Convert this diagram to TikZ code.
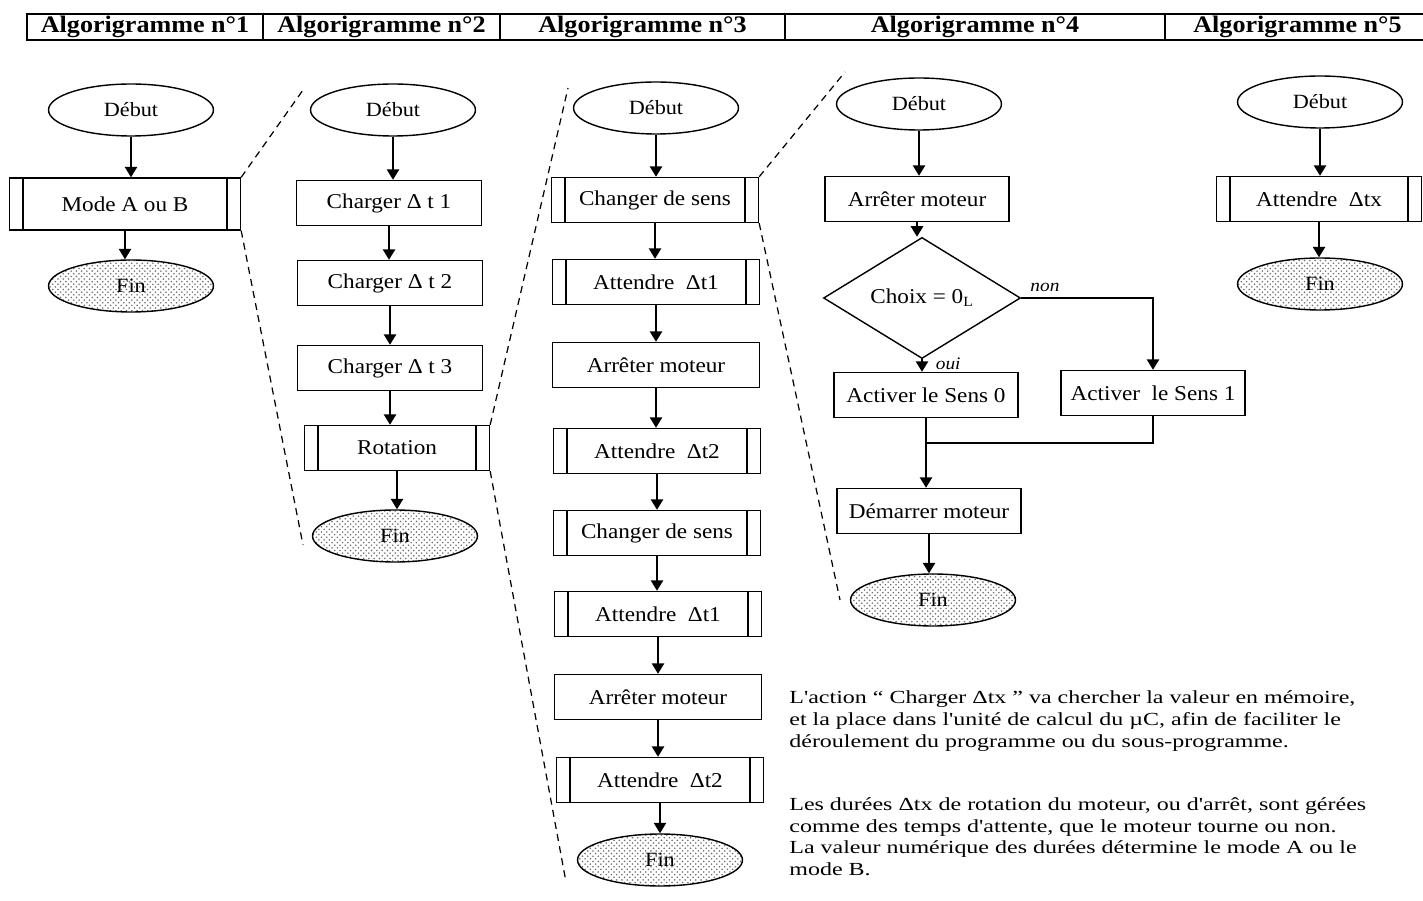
\documentclass[tikz,border=0pt]{standalone}
\usepackage{fontspec}
\setmainfont{Liberation Serif}[FakeStretch=1.1]
\newfontfamily\notefont{Liberation Serif}[FakeStretch=1.3]
\usepackage{tikz}
\usetikzlibrary{arrows.meta}
\usetikzlibrary{shapes.geometric}
\usetikzlibrary{patterns}
\tikzset{>={Triangle[width=7pt,length=6pt]}}
\definecolor{stipple}{HTML}{6E6E6E}
\tikzset{
  box/.style={draw, line width=0.8pt, minimum width=3.7cm, minimum height=0.9cm, inner sep=1pt, font=\fontsize{12}{14}\selectfont},
  subbox/.style={box, path picture={
      \draw[line width=1.1pt] ([xshift=0.27cm]path picture bounding box.north west) -- ([xshift=0.27cm]path picture bounding box.south west);
      \draw[line width=1.1pt] ([xshift=-0.27cm]path picture bounding box.north east) -- ([xshift=-0.27cm]path picture bounding box.south east);}},
  debut/.style={draw, ellipse, line width=0.8pt, minimum width=3.3cm, minimum height=1.04cm, inner sep=0pt, font=\fontsize{11.5}{13}\selectfont},
  fin/.style={debut, pattern=crosshatch dots, pattern color=stipple},
  choix/.style={draw, diamond, line width=0.8pt, minimum width=3.94cm, minimum height=1.6cm, inner sep=0pt, font=\fontsize{12}{14}\selectfont},
  cell/.style={draw, line width=1pt, minimum height=0.52cm, inner sep=0pt, font=\fontsize{13.5}{15}\selectfont\bfseries},
  flow/.style={->, line width=1.1pt},
  zoomline/.style={dash pattern=on 4pt off 3pt, line width=0.7pt},
  note/.style={align=left, inner sep=0pt, font=\notefont\fontsize{10.5}{12.5}\selectfont}
}

\begin{document}
\begin{tikzpicture}[x=0.02cm, y=-0.02cm]
                \useasboundingbox (0,0) rectangle (1423,901);
                % en-tete
                \node[cell, minimum width=4.72cm] (h1) at (145,27) {Algorigramme n°1};
                \node[cell, minimum width=4.74cm] (h2) at (381.5,27) {Algorigramme n°2};
                \node[cell, minimum width=5.7cm] (h3) at (642.5,27) {Algorigramme n°3};
                \node[cell, minimum width=7.6cm] (h4) at (975,27) {Algorigramme n°4};
                \node[cell, minimum width=5.3cm] (h5) at (1297.5,27) {Algorigramme n°5};
                % algorigramme 1
                \node[debut] (d1) at (131,110) {Début};
                \node[subbox, minimum width=4.62cm, minimum height=1.04cm] (m1) at (125,204) {Mode A ou B};
                \node[fin] (f1) at (131,286) {Fin};
                \draw[flow] (d1) -- (d1 |- m1.north);
                \draw[flow] (m1) -- (m1 |- f1.north);
                % algorigramme 2
                \node[debut] (d2) at (393,110) {Début};
                \node[box] (c1) at (389,203) {Charger Δ t 1};
                \node[box] (c2) at (390,283) {Charger Δ t 2};
                \node[box] (c3) at (390,368) {Charger Δ t 3};
                \node[subbox] (ro) at (397,448) {Rotation};
                \node[fin] (f2) at (395,536) {Fin};
                \draw[flow] (d2) -- (d2 |- c1.north);
                \draw[flow] (c1) -- (c1 |- c2.north);
                \draw[flow] (c2) -- (c2 |- c3.north);
                \draw[flow] (c3) -- (c3 |- ro.north);
                \draw[flow] (ro) -- (ro |- f2.north);
                % algorigramme 3
                \node[debut] (d3) at (656,108) {Début};
                \node[subbox, minimum width=4.14cm] (a1) at (655,200) {Changer de sens};
                \node[subbox, minimum width=4.14cm] (a2) at (656,282) {Attendre~ Δt1};
                \node[box, minimum width=4.14cm] (a3) at (656,365) {Arrêter moteur};
                \node[subbox, minimum width=4.14cm] (a4) at (657,451) {Attendre~ Δt2};
                \node[subbox, minimum width=4.14cm] (a5) at (657,533) {Changer de sens};
                \node[subbox, minimum width=4.14cm] (a6) at (658,614) {Attendre~ Δt1};
                \node[box, minimum width=4.14cm] (a7) at (658,697) {Arrêter moteur};
                \node[subbox, minimum width=4.14cm] (a8) at (660,780) {Attendre~ Δt2};
                \node[fin] (f3) at (660,860) {Fin};
                \draw[flow] (d3) -- (d3 |- a1.north);
                \draw[flow] (a1) -- (a1 |- a2.north);
                \draw[flow] (a2) -- (a2 |- a3.north);
                \draw[flow] (a3) -- (a3 |- a4.north);
                \draw[flow] (a4) -- (a4 |- a5.north);
                \draw[flow] (a5) -- (a5 |- a6.north);
                \draw[flow] (a6) -- (a6 |- a7.north);
                \draw[flow] (a7) -- (a7 |- a8.north);
                \draw[flow] (a8) -- (a8 |- f3.north);
                % algorigramme 4
                \node[debut] (d4) at (919,104) {Début};
                \node[box, minimum width=3.68cm] (b1) at (917,199) {Arrêter moteur};
                \node[choix] (ch) at (922,298) {Choix = 0\textsubscript{L}};
                \node[box, minimum width=3.68cm] (s0) at (926,395) {Activer le Sens 0};
                \node[box, minimum width=3.68cm] (s1) at (1153,393) {Activer~ le Sens 1};
                \node[box, minimum width=3.68cm] (dm) at (929,511) {Démarrer moteur};
                \node[fin] (f4) at (933,600) {Fin};
                \coordinate (j) at (926,443);
                \draw[flow] (d4) -- (d4 |- b1.north);
                \draw[flow] (b1) -- (b1 |- ch.north);
                \draw[flow] (ch) -- (ch |- s0.north) node[pos=0.35, right=4pt, font=\itshape\fontsize{10}{12}\selectfont] {oui};
                \draw[flow] (ch.east) -| (s1.north) node[pos=0.09, above, font=\itshape\fontsize{10}{12}\selectfont] {non};
                \draw[line width=1.1pt] (s1) |- (j);
                \draw[flow] (s0) -- (s0 |- dm.north);
                \draw[flow] (dm) -- (dm |- f4.north);
                % algorigramme 5
                \node[debut] (d5) at (1320,102) {Début};
                \node[subbox, minimum width=4.1cm] (w5) at (1319,199) {Attendre~ Δtx};
                \node[fin] (f5) at (1320,284) {Fin};
                \draw[flow] (d5) -- (d5 |- w5.north);
                \draw[flow] (w5) -- (w5 |- f5.north);
                % lignes de detail
                \coordinate (z1) at (303,90);
                \coordinate (z2) at (303,545);
                \coordinate (z3) at (568,88);
                \coordinate (z4) at (566,882);
                \coordinate (z5) at (845,72);
                \coordinate (z6) at (840,600);
                \draw[zoomline] (m1.north east) -- (z1);
                \draw[zoomline] (m1.south east) -- (z2);
                \draw[zoomline] (ro.north east) -- (z3);
                \draw[zoomline] (ro.south east) -- (z4);
                \draw[zoomline] (a1.north east) -- (z5);
                \draw[zoomline] (a1.south east) -- (z6);
                % commentaire
                \node[note, anchor=north west] (txt) at (789,690) {L'action “ Charger Δtx ” va chercher la valeur en mémoire,\\
                    et la place dans l'unité de calcul du µC, afin de faciliter le\\
                    déroulement du programme ou du sous-programme.\\[0.82cm]
                    Les durées Δtx de rotation du moteur, ou d'arrêt, sont gérées\\
                    comme des temps d'attente, que le moteur tourne ou non.\\
                    La valeur numérique des durées détermine le mode A ou le\\
                    mode B.};
            \end{tikzpicture}
\end{document}
